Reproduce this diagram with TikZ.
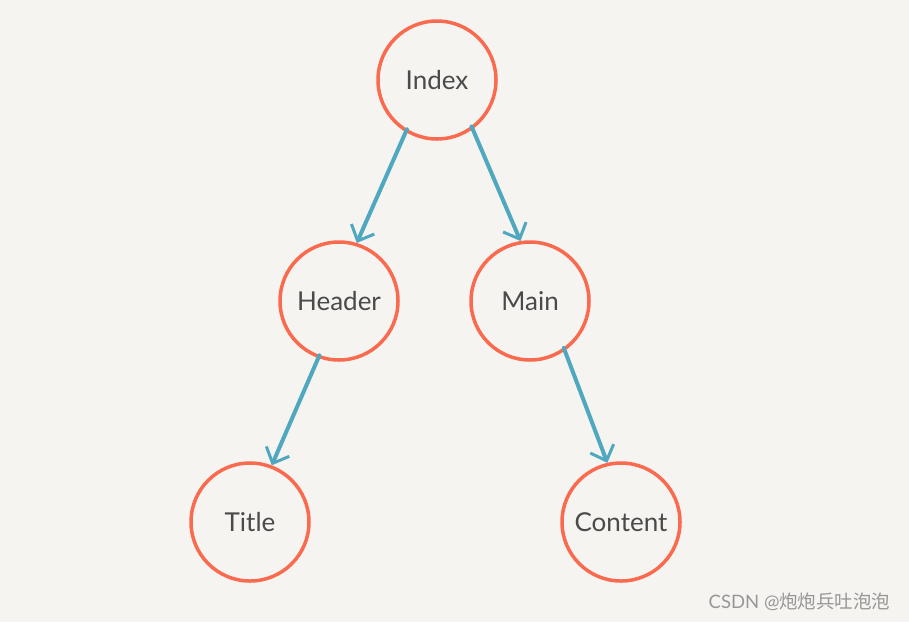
\documentclass[tikz,border=0pt]{standalone}
\usepackage{fontspec}
\setmainfont{Lato}
\newfontfamily\cjk{Noto Sans CJK SC}
\usetikzlibrary{arrows.meta}
\definecolor{bgcol}{RGB}{245,244,240}
\definecolor{ringcol}{RGB}{250,106,79}
\definecolor{arrcol}{RGB}{79,168,192}
\definecolor{txtcol}{RGB}{74,74,74}
\definecolor{wmcol}{RGB}{150,150,150}
\tikzset{
  nd/.style={draw=ringcol,circle,line width=3.5pt,minimum size=118pt,inner sep=0pt,
    text=txtcol,font=\fontsize{26}{30}\selectfont},
  edg/.style={draw=arrcol,line width=4pt,line cap=round,shorten <=-3pt,shorten >=0pt,
    -{Straight Barb[length=13pt,width=25pt,line width=3pt]}},
  wm/.style={text=wmcol,font=\fontsize{18.5}{22}\selectfont,anchor=east},
}
\begin{document}
\begin{tikzpicture}[x=1pt,y=-1pt]
  \fill[bgcol] (0,0) rectangle (909,622);
  \useasboundingbox (0,0) rectangle (909,622);
  \node[nd] (index) at (437,80) {Index};
  \node[nd] (header) at (339,301) {Header};
  \node[nd] (main) at (530,301) {Main};
  \node[nd] (title) at (250,522) {Title};
  \node[nd] (content) at (621,522) {Content};
  \draw[edg] (index.239) -- (header.73);
  \draw[edg] (index.306) -- (main.99);
  \draw[edg] (header.250) -- (title.69);
  \draw[edg] (main.305) -- (content.103);
  \node[wm] (mark) at (894,602) {CSDN @{\cjk 炮炮兵吐泡泡}};
\end{tikzpicture}
\end{document}
